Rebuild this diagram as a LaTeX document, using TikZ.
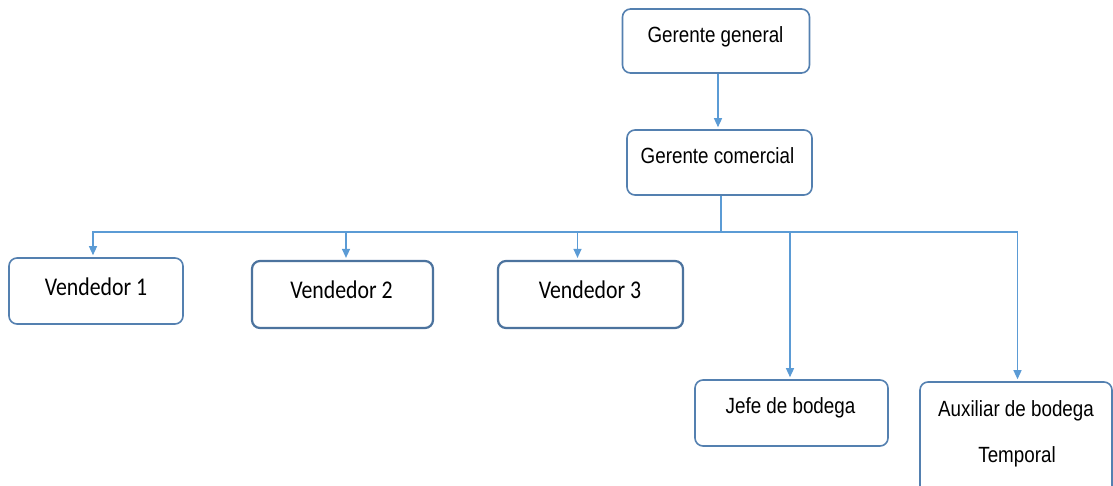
\documentclass[tikz,border=0pt]{standalone}
\usepackage{fontspec}
\setmainfont{Liberation Sans}
\newfontfamily\calfont{Carlito}
\usepackage{graphicx}
\usetikzlibrary{arrows.meta}
\definecolor{lineblue}{RGB}{91,155,213}
\definecolor{boxblue}{RGB}{84,128,176}
\tikzset{
  box/.style={draw=boxblue, line width=1.6pt, rounded corners=8pt, fill=white, inner sep=0pt},
  boxdark/.style={box, line width=2.2pt, draw=boxblue!90!black},
  conn/.style={draw=lineblue, line width=1.3pt},
  arr/.style={conn, -{Triangle[width=8pt,length=9pt]}, shorten >=2pt},
  txtA/.style={anchor=base, inner sep=0pt, font=\fontsize{18.8}{22}\selectfont},
  txtB/.style={anchor=base, inner sep=0pt, font=\calfont\fontsize{21.8}{26}\selectfont},
}
\newcommand{\vs}[1]{\scalebox{1}[1.17]{#1}}
\begin{document}
\begin{tikzpicture}[x=1pt,y=-1pt]
\useasboundingbox (0,0) rectangle (1113,485);
% boxes
\node[box, minimum width=187pt, minimum height=64pt] (gg) at (716,41) {};
\node[box, minimum width=185pt, minimum height=65pt] (gc) at (719.5,162.5) {};
\node[box, minimum width=174pt, minimum height=66pt] (v1) at (96,291) {};
\node[boxdark, minimum width=181pt, minimum height=67pt] (v2) at (342.5,294.5) {};
\node[boxdark, minimum width=185pt, minimum height=67pt] (v3) at (590.5,294.5) {};
\node[box, minimum width=193pt, minimum height=66pt] (jb) at (791.5,413) {};
\node[box, minimum width=192pt, minimum height=116pt] (ab) at (1016,440) {};
% texts
\node[txtA] (tgg) at (715.5,42) {\vs{Gerente general}};
\node[txtA] (tgc) at (717.5,163) {\vs{Gerente comercial}};
\node[txtB] (tv1) at (96,295) {\vs{Vendedor 1}};
\node[txtB] (tv2) at (341.5,298) {\vs{Vendedor 2}};
\node[txtB] (tv3) at (590,298) {\vs{Vendedor 3}};
\node[txtA] (tjb) at (790.5,413) {\vs{Jefe de bodega}};
\node[txtA] (tab1) at (1016,416) {\vs{Auxiliar de bodega}};
\node[txtA] (tab2) at (1017,462) {\vs{Temporal}};
% connectors
\draw[arr] ([xshift=2pt]gg.south) -- ([xshift=-1.5pt]gc.north);
\coordinate (bus) at (721,232);
\draw[conn] ([xshift=1.5pt]gc.south) -- (bus);
\draw[arr] (bus) -| ([xshift=-3pt]v1.north);
\draw[arr] (bus) -| ([xshift=3.5pt]v2.north);
\draw[arr] (bus) -| ([xshift=-13pt]v3.north);
\draw[arr] (bus) -| ([xshift=-1.5pt]jb.north);
\draw[arr] (bus) -| ([xshift=1.5pt]ab.north);
\end{tikzpicture}
\end{document}
